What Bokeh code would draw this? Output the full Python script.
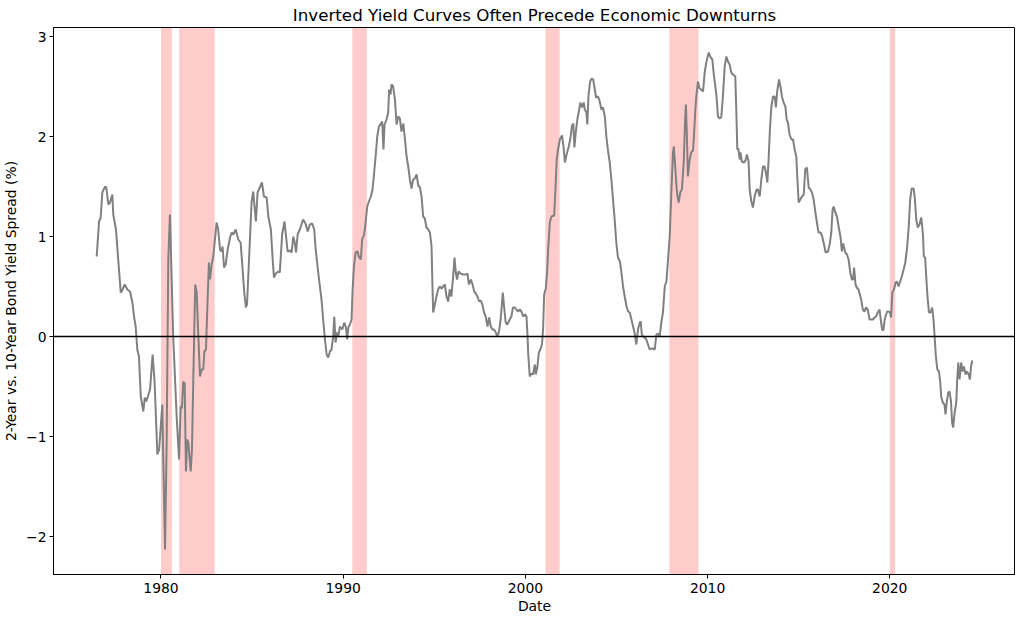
from bokeh.plotting import figure
from bokeh.models import Range1d, FixedTicker, BoxAnnotation, Span
from bokeh.embed import file_html
from bokeh.resources import INLINE

# ---------------- data (decimal years, spread in %) ----------------
dates = [
    1976.47, 1976.60, 1976.69, 1976.78, 1976.93, 1977.00, 1977.11, 1977.20, 1977.33, 1977.38,
    1977.53, 1977.64, 1977.79, 1977.84, 1978.01, 1978.15, 1978.30, 1978.43, 1978.52, 1978.61,
    1978.70, 1978.79, 1978.89, 1979.03, 1979.11, 1979.19, 1979.40, 1979.54, 1979.65, 1979.80,
    1979.90, 1980.07, 1980.22, 1980.31, 1980.40,
    1980.49, 1980.67, 1980.86, 1980.99, 1981.08, 1981.15, 1981.22, 1981.30, 1981.37, 1981.44,
    1981.50, 1981.63, 1981.70, 1981.77, 1981.88, 1981.96, 1982.05, 1982.14, 1982.23, 1982.32,
    1982.38, 1982.47, 1982.54, 1982.63, 1982.69, 1982.78, 1982.87, 1982.96, 1983.05, 1983.14,
    1983.24, 1983.33, 1983.38, 1983.46, 1983.55, 1983.66, 1983.79, 1983.88, 1983.97, 1984.10,
    1984.24, 1984.37, 1984.48, 1984.57, 1984.66, 1984.72, 1984.84, 1984.97, 1985.06, 1985.21,
    1985.30, 1985.40, 1985.54, 1985.65, 1985.80, 1985.89, 1986.03, 1986.13, 1986.20, 1986.30,
    1986.44, 1986.52, 1986.65, 1986.78,
    1986.95, 1987.08, 1987.17, 1987.26, 1987.35, 1987.41, 1987.50, 1987.62, 1987.80, 1987.93,
    1988.05, 1988.17, 1988.30, 1988.41, 1988.49, 1988.63, 1988.72, 1988.81, 1988.90, 1989.00,
    1989.09, 1989.18, 1989.27, 1989.36, 1989.45, 1989.51, 1989.58, 1989.67, 1989.73, 1989.82,
    1989.95, 1990.06, 1990.15, 1990.22, 1990.28, 1990.37, 1990.46, 1990.51, 1990.59, 1990.68,
    1990.79, 1990.85, 1990.97, 1991.04, 1991.15, 1991.23, 1991.32, 1991.41, 1991.52, 1991.61,
    1991.69, 1991.78, 1991.87, 1991.96, 1992.05, 1992.14, 1992.21, 1992.27, 1992.38, 1992.47,
    1992.52, 1992.60, 1992.65, 1992.74, 1992.84, 1992.93, 1993.02,
    1993.11, 1993.20, 1993.30, 1993.38, 1993.48, 1993.57, 1993.66, 1993.75, 1993.84, 1993.93,
    1994.03, 1994.12, 1994.21, 1994.30, 1994.39, 1994.48, 1994.57, 1994.67, 1994.76, 1994.85,
    1994.90, 1994.94, 1995.03, 1995.12, 1995.21, 1995.30, 1995.40, 1995.49, 1995.58, 1995.67,
    1995.76, 1995.85, 1995.94, 1996.03, 1996.11, 1996.18, 1996.25, 1996.33, 1996.44, 1996.58,
    1996.73, 1996.82, 1996.90, 1997.01, 1997.10, 1997.19, 1997.28, 1997.37, 1997.46, 1997.55,
    1997.64, 1997.73, 1997.82, 1997.92, 1998.01, 1998.10, 1998.19, 1998.28, 1998.38, 1998.45,
    1998.54, 1998.63, 1998.70, 1998.76, 1998.83, 1998.92, 1999.01, 1999.14, 1999.23, 1999.32,
    1999.42, 1999.50, 1999.60, 1999.69, 1999.78, 1999.88, 1999.97, 2000.06, 2000.12, 2000.15,
    2000.24, 2000.33, 2000.42, 2000.52, 2000.57, 2000.66, 2000.74, 2000.82, 2000.91, 2000.97,
    2001.03, 2001.12, 2001.19, 2001.25, 2001.34, 2001.43, 2001.58, 2001.65, 2001.72, 2001.79,
    2001.89, 2002.01, 2002.09, 2002.17, 2002.26, 2002.38, 2002.47, 2002.55, 2002.63, 2002.69,
    2002.77, 2002.86, 2002.95, 2003.02, 2003.11, 2003.20, 2003.26, 2003.35, 2003.40, 2003.46,
    2003.55, 2003.64, 2003.72, 2003.81, 2003.88, 2003.99, 2004.08, 2004.17, 2004.26, 2004.36,
    2004.45, 2004.54, 2004.63, 2004.72, 2004.81, 2004.90, 2004.99, 2005.08, 2005.19, 2005.27,
    2005.36, 2005.45, 2005.55, 2005.64,
    2005.73, 2005.82, 2005.91, 2006.00, 2006.09, 2006.18, 2006.28, 2006.33, 2006.39, 2006.46,
    2006.55, 2006.64, 2006.73, 2006.82, 2006.91, 2007.00, 2007.10, 2007.19, 2007.28, 2007.37,
    2007.46, 2007.55, 2007.65, 2007.74, 2007.83, 2007.92, 2008.01, 2008.10, 2008.15, 2008.23,
    2008.32, 2008.41, 2008.50, 2008.59, 2008.69, 2008.76, 2008.81, 2008.87, 2008.92, 2009.02,
    2009.10, 2009.20, 2009.25, 2009.33, 2009.38, 2009.47, 2009.56, 2009.65, 2009.75, 2009.84,
    2009.93, 2010.06, 2010.17, 2010.26, 2010.33, 2010.41, 2010.48, 2010.57, 2010.66, 2010.75,
    2010.84, 2010.94, 2011.03, 2011.12, 2011.21, 2011.30, 2011.39, 2011.52, 2011.58, 2011.63,
    2011.69, 2011.76, 2011.81, 2011.88, 2011.99,
    2012.08, 2012.16, 2012.25, 2012.31, 2012.40, 2012.49, 2012.58, 2012.69, 2012.76, 2012.86,
    2012.95, 2013.04, 2013.13, 2013.22, 2013.28, 2013.35, 2013.42, 2013.50, 2013.59, 2013.68,
    2013.75, 2013.82, 2013.92, 2014.01, 2014.08, 2014.17, 2014.27, 2014.34, 2014.41, 2014.50,
    2014.60, 2014.69, 2014.78, 2014.87, 2014.93, 2015.00, 2015.09, 2015.18, 2015.28, 2015.36,
    2015.45, 2015.55, 2015.64, 2015.73, 2015.82, 2015.91, 2016.00, 2016.09, 2016.20, 2016.29,
    2016.39, 2016.48, 2016.61, 2016.70, 2016.79, 2016.86, 2016.92, 2017.01, 2017.10, 2017.19,
    2017.30, 2017.37, 2017.44, 2017.56, 2017.65, 2017.74, 2017.83, 2017.92, 2017.99, 2018.04,
    2018.12, 2018.19, 2018.28,
    2018.43, 2018.52, 2018.61, 2018.70, 2018.79, 2018.89, 2018.98, 2019.07, 2019.16, 2019.25,
    2019.34, 2019.44, 2019.49, 2019.58, 2019.65, 2019.72, 2019.80, 2019.86, 2019.94, 2020.01,
    2020.07, 2020.14, 2020.23, 2020.32, 2020.39, 2020.48, 2020.57, 2020.66, 2020.76, 2020.85,
    2020.94, 2021.03, 2021.12, 2021.20, 2021.31, 2021.38, 2021.45, 2021.54, 2021.63, 2021.73,
    2021.82, 2021.87, 2021.94, 2022.00, 2022.07, 2022.15, 2022.24, 2022.33, 2022.40, 2022.46,
    2022.53, 2022.61, 2022.70, 2022.77, 2022.82, 2022.91, 2023.00, 2023.06, 2023.13, 2023.21,
    2023.28, 2023.36, 2023.42, 2023.48, 2023.56, 2023.65, 2023.70, 2023.76, 2023.83, 2023.92,
    2023.99, 2024.07, 2024.16, 2024.23, 2024.31, 2024.40, 2024.46, 2024.53,
]

spread = [
    0.80, 1.15, 1.19, 1.44, 1.50, 1.49, 1.32, 1.34, 1.42, 1.22,
    1.07, 0.80, 0.44, 0.45, 0.52, 0.47, 0.45, 0.34, 0.20, 0.10,
    -0.13, -0.20, -0.60, -0.75, -0.61, -0.65, -0.53, -0.18, -0.46, -1.18,
    -1.13, -0.68, -2.13, -1.06, 0.77,
    1.22, 0.00, -0.80, -1.23, -0.70, -0.72, -0.45, -0.47, -1.35, -1.03,
    -1.06, -1.35, -1.13, -0.46, 0.52, 0.44, 0.00, -0.40, -0.33, -0.33,
    -0.15, -0.13, 0.27, 0.74, 0.57, 0.72, 0.80, 0.97, 1.14, 1.07,
    0.87, 0.85, 0.90, 0.69, 0.72, 0.87, 0.99, 1.04, 1.02, 1.07,
    0.97, 0.94, 0.67, 0.44, 0.29, 0.32, 0.80, 1.34, 1.45, 1.15,
    1.44, 1.48, 1.54, 1.40, 1.39, 1.20, 1.07, 0.77, 0.59, 0.63,
    0.65, 0.64, 1.02, 1.15,
    0.85, 0.86, 0.84, 1.00, 0.93, 0.84, 1.02, 1.07, 1.17, 1.13,
    1.05, 1.12, 1.13, 1.07, 0.87, 0.64, 0.50, 0.37, 0.17, -0.03,
    -0.18, -0.21, -0.15, -0.13, 0.00, 0.20, -0.06, 0.04, 0.00, 0.10,
    0.07, 0.14, 0.09, -0.03, 0.09, 0.12, 0.17, 0.44, 0.70, 0.84,
    0.85, 0.80, 0.77, 0.97, 1.02, 1.14, 1.30, 1.35, 1.40, 1.47,
    1.62, 1.80, 2.00, 2.10, 2.12, 2.15, 1.87, 2.12, 2.17, 2.24,
    2.47, 2.42, 2.52, 2.50, 2.37, 2.12, 2.20,
    2.18, 2.05, 2.13, 1.99, 1.80, 1.70, 1.57, 1.48, 1.57, 1.58,
    1.62, 1.51, 1.49, 1.40, 1.20, 1.18, 1.09, 1.07, 1.04, 0.90,
    0.50, 0.24, 0.32, 0.40, 0.47, 0.50, 0.48, 0.50, 0.52, 0.40,
    0.35, 0.47, 0.40, 0.59, 0.79, 0.64, 0.57, 0.65, 0.63, 0.62,
    0.62, 0.63, 0.52, 0.57, 0.52, 0.45, 0.43, 0.40, 0.35, 0.36,
    0.32, 0.24, 0.20, 0.10, 0.19, 0.10, 0.07, 0.07, 0.04, 0.00,
    0.04, 0.15, 0.30, 0.44, 0.30, 0.14, 0.12, 0.17, 0.20, 0.29,
    0.29, 0.27, 0.25, 0.27, 0.25, 0.20, 0.22, 0.20, 0.00, -0.16,
    -0.40, -0.37, -0.38, -0.28, -0.38, -0.30, -0.16, -0.13, -0.08, 0.07,
    0.42, 0.48, 0.64, 0.87, 1.14, 1.20, 1.21, 1.47, 1.77, 1.87,
    1.97, 2.01, 1.90, 1.74, 1.82, 1.90, 1.98, 2.10, 2.13, 1.89,
    2.05, 2.18, 2.27, 2.34, 2.29, 2.34, 2.27, 2.24, 2.12, 2.40,
    2.55, 2.58, 2.57, 2.47, 2.39, 2.40, 2.35, 2.27, 2.29, 2.20,
    1.99, 1.85, 1.74, 1.57, 1.37, 1.17, 0.94, 0.79, 0.75, 0.64,
    0.50, 0.40, 0.30, 0.25,
    0.24, 0.17, 0.10, 0.03, -0.08, 0.07, 0.14, 0.15, 0.02, 0.00,
    -0.01, -0.03, -0.08, -0.13, -0.12, -0.12, -0.13, 0.02, 0.03, 0.00,
    0.14, 0.24, 0.50, 0.55, 0.77, 1.00, 1.44, 1.84, 1.90, 1.67,
    1.44, 1.34, 1.44, 1.47, 1.74, 2.14, 2.32, 1.97, 1.60, 1.77,
    1.84, 1.86, 2.00, 2.27, 2.40, 2.55, 2.48, 2.47, 2.45, 2.64,
    2.74, 2.84, 2.79, 2.77, 2.64, 2.52, 2.42, 2.20, 2.18, 2.19,
    2.40, 2.70, 2.80, 2.75, 2.72, 2.64, 2.62, 2.60, 2.24, 1.87,
    1.88, 1.77, 1.84, 1.75, 1.74,
    1.76, 1.82, 1.75, 1.47, 1.35, 1.29, 1.40, 1.47, 1.47, 1.40,
    1.57, 1.70, 1.70, 1.62, 1.54, 1.77, 2.07, 2.30, 2.40, 2.40,
    2.29, 2.45, 2.57, 2.49, 2.40, 2.34, 2.30, 2.17, 2.14, 2.02,
    1.97, 1.97, 1.87, 1.80, 1.57, 1.34, 1.37, 1.40, 1.42, 1.67,
    1.69, 1.49, 1.47, 1.44, 1.37, 1.25, 1.14, 1.04, 1.04, 1.00,
    0.92, 0.84, 0.85, 0.92, 1.04, 1.27, 1.30, 1.24, 1.20, 1.10,
    0.99, 0.85, 0.93, 0.84, 0.82, 0.77, 0.64, 0.57, 0.57, 0.69,
    0.52, 0.49, 0.47,
    0.37, 0.27, 0.25, 0.29, 0.27, 0.17, 0.17, 0.17, 0.19, 0.20,
    0.24, 0.27, 0.19, 0.07, 0.06, 0.17, 0.22, 0.25, 0.25, 0.24,
    0.19, 0.44, 0.47, 0.54, 0.55, 0.50, 0.55, 0.60, 0.67, 0.74,
    0.87, 1.07, 1.37, 1.48, 1.48, 1.37, 1.17, 1.09, 1.12, 1.19,
    1.02, 0.80, 0.79, 0.60, 0.40, 0.24, 0.24, 0.29, 0.17, 0.00,
    -0.20, -0.33, -0.35, -0.46, -0.60, -0.66, -0.68, -0.78, -0.65, -0.56,
    -0.55, -0.65, -0.86, -0.91, -0.76, -0.66, -0.43, -0.26, -0.43, -0.26,
    -0.35, -0.30, -0.38, -0.35, -0.37, -0.43, -0.30, -0.24,
]

recession_start = [1980.0, 1981.0, 1990.5, 2001.1, 2007.9, 2020.0]
recession_end = [1980.6, 1982.95, 1991.3, 2001.88, 2009.5, 2020.3]

x_ticks = [1980, 1990, 2000, 2010, 2020]
y_ticks = [-2, -1, 0, 1, 2, 3]
y_labels = {-2: "\u22122", -1: "\u22121", 0: "0", 1: "1", 2: "2", 3: "3"}

FONT = "DejaVu Sans"

p = figure(
    frame_width=962, frame_height=547,
    output_backend="svg", toolbar_location=None,
    x_range=Range1d(1974.1, 2026.9), y_range=Range1d(-2.38, 3.09),
    title="Inverted Yield Curves Often Precede Economic Downturns",
    x_axis_label="Date", y_axis_label="2-Year vs. 10-Year Bond Yield Spread (%)",
    min_border_left=46, min_border_right=0, min_border_top=20, min_border_bottom=0,
)
p.background_fill_color = "white"
p.border_fill_color = "white"
p.grid.visible = False
p.outline_line_color = "black"
p.outline_line_width = 1

p.title.align = "center"
p.title.text_font = FONT
p.title.text_font_size = "16.7px"
p.title.text_font_style = "normal"
p.title.text_color = "black"
p.title.standoff = 5

for ax in (p.xaxis[0], p.yaxis[0]):
    ax.axis_label_text_font = FONT
    ax.axis_label_text_font_size = "13.9px"
    ax.axis_label_text_font_style = "normal"
    ax.axis_label_text_color = "black"
    ax.major_label_text_font = FONT
    ax.major_label_text_font_size = "13.9px"
    ax.major_label_text_color = "black"
    ax.major_tick_in = 0
    ax.major_tick_out = 4
    ax.minor_tick_in = 0
    ax.minor_tick_out = 0
    ax.axis_line_color = "black"
    ax.major_tick_line_color = "black"

p.xaxis[0].major_label_standoff = 4
p.xaxis[0].axis_label_standoff = 2
p.yaxis[0].major_label_standoff = 3
p.yaxis[0].axis_label_standoff = 4

p.xaxis[0].ticker = FixedTicker(ticks=x_ticks)
p.yaxis[0].ticker = FixedTicker(ticks=y_ticks)
p.yaxis[0].major_label_overrides = y_labels

for s, e in zip(recession_start, recession_end):
    p.add_layout(BoxAnnotation(left=s, right=e, fill_color="red", fill_alpha=0.2,
                               line_color=None, level="underlay"))

p.line(dates, spread, line_color="#808080", line_width=2)
p.add_layout(Span(location=0, dimension="width", line_color="black", line_width=1.5))

open("out.html", "w").write(file_html(p, INLINE))
